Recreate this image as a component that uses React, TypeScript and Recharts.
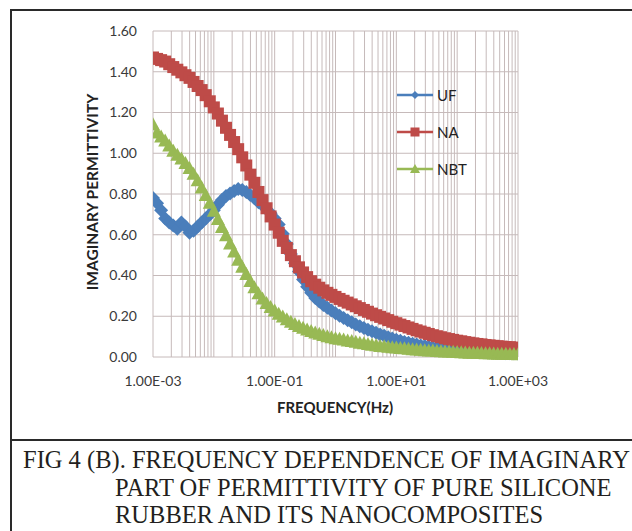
import React from "react";
import { LineChart, Line, XAxis, YAxis, CartesianGrid, ReferenceLine } from "recharts";

// frequency sweep (Hz), 15 points per decade
const freq = [
  0.001, 0.001166, 0.001359, 0.001585, 0.001848, 0.002154, 0.002512, 0.002929, 0.003415, 0.003981, 0.004642, 0.005412, 0.00631, 0.007356, 0.008577,
  0.01, 0.01166, 0.01359, 0.01585, 0.01848, 0.02154, 0.02512, 0.02929, 0.03415, 0.03981, 0.04642, 0.05412, 0.0631, 0.07356, 0.08577,
  0.1, 0.1166, 0.1359, 0.1585, 0.1848, 0.2154, 0.2512, 0.2929, 0.3415, 0.3981, 0.4642, 0.5412, 0.631, 0.7356, 0.8577,
  1, 1.166, 1.359, 1.585, 1.848, 2.154, 2.512, 2.929, 3.415, 3.981, 4.642, 5.412, 6.31, 7.356, 8.577,
  10, 11.66, 13.59, 15.85, 18.48, 21.54, 25.12, 29.29, 34.15, 39.81, 46.42, 54.12, 63.1, 73.56, 85.77,
  100, 116.6, 135.9, 158.5, 184.8, 215.4, 251.2, 292.9, 341.5, 398.1, 464.2, 541.2, 631, 735.6, 857.7,
  1000
];

const uf = [
  0.78, 0.755, 0.72, 0.68, 0.66, 0.645, 0.63, 0.66, 0.64, 0.61, 0.62, 0.64, 0.66, 0.68, 0.7,
  0.72, 0.747, 0.77, 0.79, 0.803, 0.815, 0.825, 0.82, 0.81, 0.795, 0.78, 0.76, 0.745, 0.725, 0.705,
  0.68, 0.65, 0.605, 0.555, 0.505, 0.46, 0.42, 0.38, 0.345, 0.315, 0.29, 0.272, 0.255, 0.242, 0.228,
  0.215, 0.203, 0.191, 0.18, 0.17, 0.16, 0.151, 0.142, 0.134, 0.126, 0.119, 0.111, 0.104, 0.097, 0.091,
  0.085, 0.08, 0.074, 0.07, 0.065, 0.061, 0.057, 0.054, 0.05, 0.047, 0.044, 0.042, 0.039, 0.037, 0.035,
  0.033, 0.031, 0.029, 0.028, 0.027, 0.025, 0.024, 0.023, 0.022, 0.021, 0.02, 0.02, 0.019, 0.018, 0.018,
  0.017
];

const na = [
  1.47, 1.463, 1.457, 1.45, 1.437, 1.423, 1.41, 1.397, 1.383, 1.37, 1.35, 1.33, 1.31, 1.285, 1.255,
  1.225, 1.195, 1.16, 1.125, 1.09, 1.055, 1.02, 0.98, 0.94, 0.895, 0.855, 0.81, 0.77, 0.73, 0.69,
  0.65, 0.61, 0.57, 0.535, 0.5, 0.47, 0.44, 0.415, 0.392, 0.372, 0.355, 0.34, 0.327, 0.315, 0.305,
  0.295, 0.285, 0.276, 0.267, 0.258, 0.249, 0.24, 0.231, 0.222, 0.213, 0.205, 0.197, 0.189, 0.181, 0.173,
  0.166, 0.159, 0.152, 0.145, 0.138, 0.131, 0.125, 0.119, 0.113, 0.107, 0.102, 0.097, 0.092, 0.088, 0.084,
  0.08, 0.077, 0.073, 0.07, 0.067, 0.064, 0.062, 0.059, 0.057, 0.055, 0.053, 0.051, 0.049, 0.048, 0.046,
  0.045
];

const nbt = [
  1.14, 1.1, 1.08, 1.06, 1.035, 1.01, 0.99, 0.972, 0.95, 0.925, 0.897, 0.865, 0.83, 0.793, 0.755,
  0.715, 0.675, 0.635, 0.595, 0.555, 0.515, 0.475, 0.44, 0.405, 0.37, 0.34, 0.31, 0.285, 0.262, 0.243,
  0.226, 0.21, 0.196, 0.183, 0.171, 0.16, 0.15, 0.141, 0.133, 0.125, 0.118, 0.112, 0.106, 0.1, 0.095,
  0.09, 0.087, 0.083, 0.079, 0.076, 0.072, 0.068, 0.065, 0.061, 0.058, 0.055, 0.052, 0.05, 0.048, 0.046,
  0.044, 0.042, 0.04, 0.038, 0.036, 0.034, 0.033, 0.031, 0.03, 0.029, 0.027, 0.026, 0.025, 0.024, 0.023,
  0.022, 0.021, 0.02, 0.019, 0.018, 0.018, 0.017, 0.016, 0.016, 0.015, 0.014, 0.014, 0.013, 0.012, 0.012,
  0.011
];

const xTicks = [0.001, 0.1, 10, 1000];
const xTickLabels = ["1.00E-03", "1.00E-01", "1.00E+01", "1.00E+03"];
const yTicks = [0, 0.2, 0.4, 0.6, 0.8, 1.0, 1.2, 1.4, 1.6];

const captionLines = [
  "FIG 4 (B). FREQUENCY DEPENDENCE OF IMAGINARY",
  "PART OF PERMITTIVITY OF PURE SILICONE",
  "RUBBER AND ITS NANOCOMPOSITES"
];

const BLUE = "#4a7ebb";
const RED = "#be4b48";
const GREEN = "#98b954";
const GRID = "#c6baba";
const FONT = "Lato, 'Open Sans', sans-serif";

// log minor grid: 1..9 in every decade
const decades = [0.001, 0.01, 0.1, 1, 10, 100];
const gridX: number[] = [];
decades.forEach((d) => {
  for (let m = 1; m <= 9; m++) gridX.push(+(d * m).toPrecision(3));
});
gridX.push(1000);

const data = freq.map((f, i) => ({ f, uf: uf[i], na: na[i], nbt: nbt[i] }));

const diamond = (props: any) => {
  const { cx, cy, index } = props;
  const r = 7;
  return (
    <polygon
      key={`d${index}`}
      points={`${cx},${cy - r} ${cx + r},${cy} ${cx},${cy + r} ${cx - r},${cy}`}
      fill={BLUE}
    />
  );
};

const square = (props: any) => {
  const { cx, cy, index } = props;
  return <rect key={`s${index}`} x={cx - 6} y={cy - 6} width={12} height={12} fill={RED} />;
};

const triangle = (props: any) => {
  const { cx, cy, index } = props;
  return (
    <polygon
      key={`t${index}`}
      points={`${cx},${cy - 7.5} ${cx + 7},${cy + 5.5} ${cx - 7},${cy + 5.5}`}
      fill={GREEN}
    />
  );
};

const legendItems = [
  { name: "UF", color: BLUE, shape: "diamond", y: 95 },
  { name: "NA", color: RED, shape: "square", y: 132 },
  { name: "NBT", color: GREEN, shape: "triangle", y: 169 }
];

function LegendMark({ shape, color }: { shape: string; color: string }) {
  return (
    <svg width={38} height={14} style={{ display: "block" }}>
      <line x1={0} y1={7} x2={36} y2={7} stroke={color} strokeWidth={2.5} />
      {shape === "diamond" && <polygon points="18,3 22,7 18,11 14,7" fill={color} />}
      {shape === "square" && <rect x={13.5} y={2.5} width={9} height={9} fill={color} />}
      {shape === "triangle" && <polygon points="18,2 23,11 13,11" fill={color} />}
    </svg>
  );
}

export default function App() {
  return (
    <div
      style={{
        position: "absolute",
        left: 0,
        top: 0,
        width: 632,
        height: 531,
        overflow: "hidden",
        background: "#fff"
      }}
    >
      <div
        style={{
          position: "absolute",
          left: 10,
          top: 9,
          width: 660,
          height: 600,
          borderLeft: "2px solid #2a2a2a",
          borderTop: "2px solid #2a2a2a"
        }}
      />
      <div
        style={{
          position: "absolute",
          left: 10,
          top: 439,
          width: 660,
          borderTop: "2px solid #2a2a2a"
        }}
      />

      <div style={{ position: "absolute", left: 0, top: 0 }}>
        <LineChart
          width={632}
          height={440}
          data={data}
          margin={{ top: 31, right: 114, bottom: 43, left: 93 }}
        >
          <CartesianGrid stroke={GRID} vertical={false} />
          {gridX.map((x) => (
            <ReferenceLine key={x} x={x} stroke={GRID} strokeWidth={1} />
          ))}
          <XAxis
            dataKey="f"
            type="number"
            scale="log"
            domain={[0.001, 1000]}
            ticks={xTicks}
            tickFormatter={(v: number) => xTickLabels[xTicks.indexOf(v)] ?? ""}
            axisLine={false}
            tickLine={false}
            tickSize={0}
            tickMargin={19}
            height={40}
            allowDataOverflow
            tick={{ fill: "#3a3a3a", fontSize: 14, fontFamily: FONT }}
          />
          <YAxis
            type="number"
            domain={[0, 1.6]}
            ticks={yTicks}
            tickFormatter={(v: number) => v.toFixed(2)}
            axisLine={false}
            tickLine={false}
            tickSize={0}
            tickMargin={16}
            width={60}
            tick={{ fill: "#3a3a3a", fontSize: 14, fontFamily: FONT }}
          />
          <Line
            dataKey="uf"
            name="UF"
            stroke={BLUE}
            strokeWidth={2.5}
            dot={diamond}
            activeDot={false}
            isAnimationActive={false}
          />
          <Line
            dataKey="na"
            name="NA"
            stroke={RED}
            strokeWidth={2.5}
            dot={square}
            activeDot={false}
            isAnimationActive={false}
          />
          <Line
            dataKey="nbt"
            name="NBT"
            stroke={GREEN}
            strokeWidth={2.5}
            dot={triangle}
            activeDot={false}
            isAnimationActive={false}
          />
        </LineChart>
      </div>

      {legendItems.map((it) => (
        <div
          key={it.name}
          style={{
            position: "absolute",
            left: 397,
            top: it.y - 9,
            height: 18,
            display: "flex",
            alignItems: "center",
            gap: 2,
            fontFamily: FONT,
            fontSize: 15,
            color: "#222"
          }}
        >
          <LegendMark shape={it.shape} color={it.color} />
          <span>{it.name}</span>
        </div>
      ))}

      <div
        style={{
          position: "absolute",
          left: 92,
          top: 192,
          transform: "translate(-50%, -50%) rotate(-90deg)",
          whiteSpace: "nowrap",
          fontFamily: FONT,
          fontWeight: 700,
          fontSize: 15.5,
          color: "#222"
        }}
      >
        IMAGINARY PERMITTIVITY
      </div>
      <div
        style={{
          position: "absolute",
          left: 335,
          top: 407,
          transform: "translate(-50%, -50%)",
          whiteSpace: "nowrap",
          fontFamily: FONT,
          fontWeight: 700,
          fontSize: 15,
          color: "#222"
        }}
      >
        FREQUENCY(Hz)
      </div>

      {captionLines.map((line, i) => (
        <div
          key={i}
          style={{
            position: "absolute",
            left: i === 0 ? 23 : 115,
            top: [460, 488, 515][i],
            transform: "translateY(-50%)",
            whiteSpace: "nowrap",
            fontFamily: "'Liberation Serif', 'Times New Roman', serif",
            fontSize: 24.5,
            lineHeight: "26px",
            color: "#231f20"
          }}
        >
          {line}
        </div>
      ))}
    </div>
  );
}
